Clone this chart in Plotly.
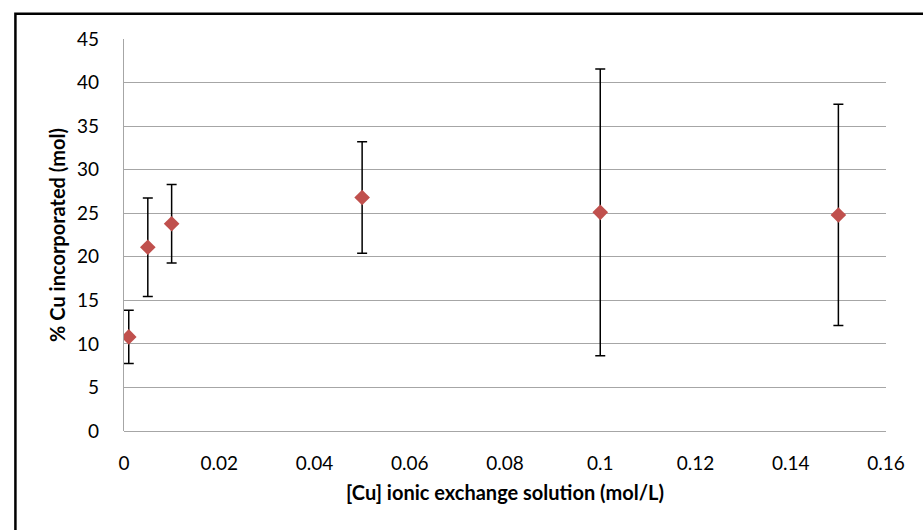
import plotly.graph_objects as go

conc = [0.001, 0.005, 0.01, 0.05, 0.1, 0.15]
cu_pct = [10.8, 21.1, 23.8, 26.8, 25.1, 24.8]
err = [3.05, 5.65, 4.5, 6.4, 16.45, 12.7]

x_ticks = [0, 0.02, 0.04, 0.06, 0.08, 0.1, 0.12, 0.14, 0.16]
x_labels = ["0", "0.02", "0.04", "0.06", "0.08", "0.1", "0.12", "0.14", "0.16"]
y_ticks = [0, 5, 10, 15, 20, 25, 30, 35, 40, 45]

FONT = "Lato, Carlito, Calibri, sans-serif"

fig = go.Figure()
fig.add_trace(go.Scatter(
    x=conc, y=cu_pct, mode="markers",
    marker=dict(symbol="diamond", size=12, color="#C0504D", line=dict(width=0)),
    error_y=dict(type="data", array=err, visible=True, color="black", thickness=1.5, width=5),
    showlegend=False,
))

fig.update_layout(
    width=923, height=530,
    margin=dict(l=124, r=37, t=39, b=99),
    paper_bgcolor="white", plot_bgcolor="white",
    font=dict(family=FONT, size=17, color="black"),
    xaxis=dict(
        range=[0, 0.16], tickvals=x_ticks, ticktext=x_labels,
        showgrid=False, zeroline=False, showline=False,
        ticks="outside", ticklen=15, tickcolor="rgba(0,0,0,0)",
        tickfont=dict(size=19),
        title=dict(text="<b>[Cu] ionic exchange solution (mol/L)</b>", font=dict(size=20), standoff=13),
    ),
    yaxis=dict(
        range=[0, 45], tickvals=y_ticks,
        showgrid=True, gridcolor="#A6A6A6", gridwidth=1.3,
        zeroline=True, zerolinecolor="#A6A6A6", zerolinewidth=1.3,
        showline=True, linecolor="#A6A6A6", linewidth=1.3,
        ticks="outside", ticklen=20, tickcolor="rgba(0,0,0,0)",
        tickfont=dict(size=19),
        title=dict(text="<b>% Cu incorporated (mol)</b>", font=dict(size=20), standoff=6),
    ),
    shapes=[dict(
        type="rect", xref="paper", yref="paper",
        x0=-0.1425, x1=1.2, y0=-0.3, y1=1.0645,
        line=dict(color="black", width=2.5), fillcolor="rgba(0,0,0,0)", layer="above",
    )],
)

fig.write_html("out.html")
